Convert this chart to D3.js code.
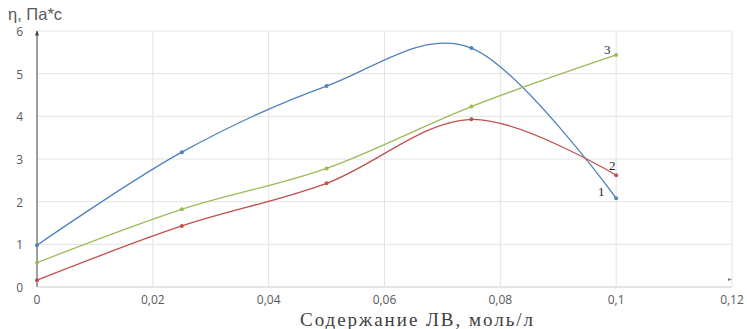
<!DOCTYPE html>
<html>
<head>
<meta charset="utf-8">
<script src="https://cdn.jsdelivr.net/npm/d3@7"></script>
<style>
  body { margin: 0; background: #fff; }
  svg { display: block; }
</style>
</head>
<body>
<div id="chart"></div>
<script>
// данные с графика
const xValues = [0, 0.025, 0.05, 0.075, 0.1]
const series1 = [0.98, 3.16, 4.71, 5.6, 2.08]   // синяя
const series2 = [0.16, 1.43, 2.43, 3.93, 2.62]  // красная
const series3 = [0.57, 1.82, 2.78, 4.23, 5.44]  // зелёная
const seriesNames = ['1', '2', '3']
const xTicks = [0, 0.02, 0.04, 0.06, 0.08, 0.1, 0.12]
const yTicks = [0, 1, 2, 3, 4, 5, 6]

const W = 747, H = 329
const pLeft = 37, pRight = 732, pTop = 31, pBottom = 287

const svg = d3.select('#chart').append('svg')
  .attr('width', W)
  .attr('height', H)

const x = d3.scaleLinear().domain([0, 0.12]).range([pLeft, pRight])
const y = d3.scaleLinear().domain([0, 6]).range([pBottom, pTop])

const fmt = d => String(d).replace('.', ',')

// сетка
svg.append('g')
  .selectAll('line')
  .data(yTicks)
  .join('line')
  .attr('x1', pLeft).attr('x2', pRight)
  .attr('y1', d => y(d)).attr('y2', d => y(d))
  .style('stroke', '#e3e3e3')
  .style('stroke-width', 1)

svg.append('g')
  .selectAll('line')
  .data(xTicks.slice(1))
  .join('line')
  .attr('x1', d => x(d)).attr('x2', d => x(d))
  .attr('y1', pTop).attr('y2', pBottom)
  .style('stroke', '#e3e3e3')
  .style('stroke-width', 1)

// подписи осей (тики)
svg.append('g')
  .selectAll('text')
  .data(yTicks)
  .join('text')
  .attr('x', 23)
  .attr('y', d => y(d) + 5)
  .attr('text-anchor', 'end')
  .style('font-family', 'Open Sans, sans-serif')
  .style('font-size', '12px')
  .style('fill', '#595959')
  .text(d => d)

svg.append('g')
  .selectAll('text')
  .data(xTicks)
  .join('text')
  .attr('x', d => x(d))
  .attr('y', 304)
  .attr('text-anchor', 'middle')
  .style('font-family', 'Open Sans, sans-serif')
  .style('font-size', '12px')
  .style('fill', '#595959')
  .text(d => fmt(d))

// стрелки
const defs = svg.append('defs')
defs.append('marker')
  .attr('id', 'arr')
  .attr('viewBox', '0 0 10 10')
  .attr('refX', 9).attr('refY', 5)
  .attr('markerWidth', 5).attr('markerHeight', 5)
  .attr('orient', 'auto')
  .append('path')
  .attr('d', 'M0,1 L10,5 L0,9 Z')
  .style('fill', '#404040')

svg.append('line')
  .attr('x1', pLeft).attr('x2', pLeft)
  .attr('y1', pBottom).attr('y2', pTop)
  .style('stroke', '#404040')
  .style('stroke-width', 1)
  .attr('marker-end', 'url(#arr)')

svg.append('line')
  .attr('x1', pLeft).attr('x2', pRight)
  .attr('y1', pBottom).attr('y2', pBottom)
  .style('stroke', '#d9d9d9')
  .style('stroke-width', 1)

svg.append('path')
  .attr('d', `M${pRight - 4},${pBottom - 9} L${pRight},${pBottom - 7.5} L${pRight - 4},${pBottom - 6} Z`)
  .style('fill', '#808080')

// линии
const allSeries = [
  { name: seriesNames[0], values: series1, color: '#4f81bd' },
  { name: seriesNames[1], values: series2, color: '#c0504d' },
  { name: seriesNames[2], values: series3, color: '#9bbb59' }
]

const line = d3.line()
  .x(d => x(d[0]))
  .y(d => y(d[1]))
  .curve(d3.curveCardinal.tension(0))

allSeries.forEach(s => {
  const pts = xValues.map((v, i) => [v, s.values[i]])
  svg.append('path')
    .datum(pts)
    .attr('d', line)
    .style('fill', 'none')
    .style('stroke', s.color)
    .style('stroke-width', 1.3)

  svg.append('g')
    .selectAll('circle')
    .data(pts)
    .join('circle')
    .attr('cx', d => x(d[0]))
    .attr('cy', d => y(d[1]))
    .attr('r', 2)
    .style('fill', s.color)
})

// номера кривых
const labelPos = [[-15, -2], [-4, -5], [-9, -1]]
allSeries.forEach((s, i) => {
  const last = s.values.length - 1
  svg.append('text')
    .attr('x', x(xValues[last]) + labelPos[i][0])
    .attr('y', y(s.values[last]) + labelPos[i][1])
    .attr('text-anchor', 'middle')
    .style('font-family', 'Liberation Serif, serif')
    .style('font-size', '13px')
    .style('fill', '#262626')
    .text(s.name)
})

// заголовки осей
svg.append('text')
  .attr('x', 8)
  .attr('y', 20)
  .style('font-family', 'Liberation Sans, Arial, sans-serif')
  .style('font-size', '16.5px')
  .style('fill', '#595959')
  .text('η, Па*с')

svg.append('text')
  .attr('x', 300)
  .attr('y', 326)
  .attr('textLength', 233)
  .style('font-family', 'Liberation Serif, serif')
  .style('font-size', '19px')
  .style('fill', '#404040')
  .text('Содержание ЛВ, моль/л')
</script>
</body>
</html>
